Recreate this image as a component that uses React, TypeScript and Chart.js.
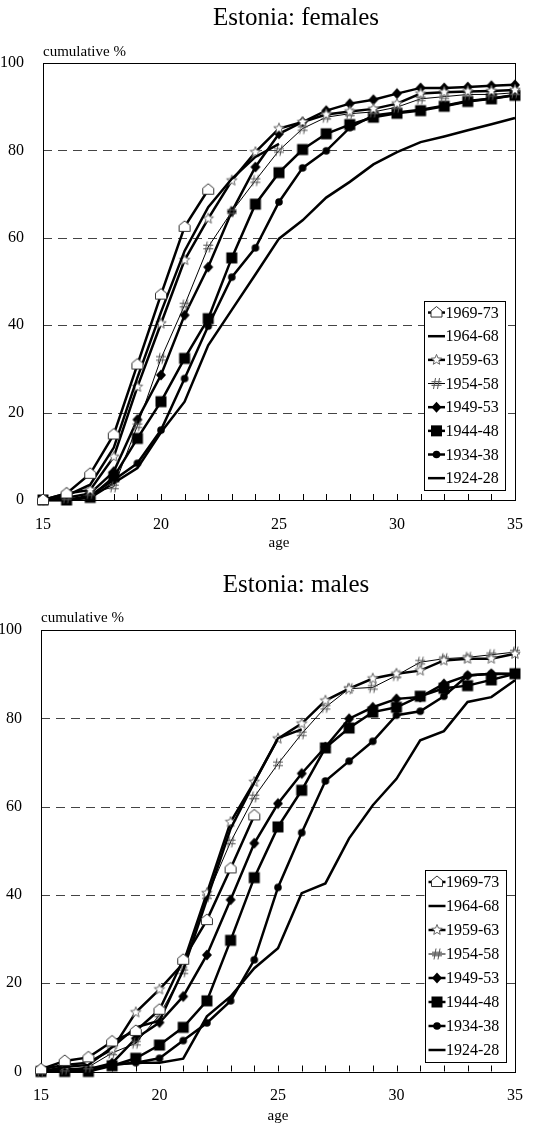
import { useEffect, useRef } from 'react';
import { Chart, registerables } from 'chart.js';

Chart.register(...registerables);

// ages on the x axis
const AGES = [15, 16, 17, 18, 19, 20, 21, 22, 23, 24, 25, 26, 27, 28, 29, 30, 31, 32, 33, 34, 35];
const Y_TICKS = [0, 20, 40, 60, 80, 100];
const COHORTS = ['1969-73', '1964-68', '1959-63', '1954-58', '1949-53', '1944-48', '1934-38', '1924-28'];

// females, cumulative %
const F_1969_73 = [0, 1.5, 6, 15, 31, 47, 62.5, 71];
const F_1964_68 = [0, 1, 3.5, 12, 28, 43, 57, 67, 73.5, 78.5, 81.5];
const F_1959_63 = [0, 1.5, 2.3, 9.9, 25.9, 40.4, 54.9, 64.4, 73.1, 79.6, 85, 86.5, 88.2, 88.9, 89.5, 90.7, 93, 93.3, 93.5, 93.6, 93.8];
const F_1954_58 = [0, 0.5, 1.5, 3, 17, 32.4, 44.6, 57.9, 66, 73.1, 80, 85, 87.6, 88.4, 88.8, 89.9, 91.8, 92.3, 92.8, 92.8, 93.2];
const F_1949_53 = [0, 0.5, 1.5, 6.5, 18.4, 28.6, 42.3, 53.3, 66, 76.2, 83.8, 86.5, 89.1, 90.7, 91.6, 93, 94.3, 94.3, 94.5, 94.8, 95];
const F_1944_48 = [0, 0, 0.6, 5.3, 14.1, 22.5, 32.4, 41.5, 55.4, 67.7, 74.9, 80.2, 83.8, 85.9, 87.6, 88.5, 89.1, 90.1, 91.2, 91.8, 92.6];
const F_1934_38 = [0, 0, 1, 4.6, 8.4, 16, 27.8, 39.8, 51, 57.7, 68.2, 76, 79.9, 85.2, 88, 88.7, 89.3, 90.2, 91.3, 91.9, 92.7];
const F_1924_28 = [0, 0, 0.5, 3.9, 7.3, 15.5, 22.5, 35.4, 43.5, 51.6, 59.8, 64, 69.2, 72.8, 76.8, 79.6, 81.9, 83.2, 84.6, 86, 87.4];

// males, cumulative %
const M_1969_73 = [0.5, 2.4, 3.2, 6.8, 9.2, 14, 25.3, 34.3, 46, 58];
const M_1964_68 = [0, 1, 1.5, 5.5, 10, 11.5, 23, 39, 55, 65.5, 75.5, 77.5];
const M_1959_63 = [0.5, 1.5, 2, 5, 13.4, 18.6, 24.5, 40.4, 56.5, 65.6, 75.4, 78.8, 84, 86.7, 89, 90.1, 90.8, 93.1, 93.5, 93.5, 94.6];
const M_1954_58 = [0, 0.5, 1, 4.2, 6.4, 12.8, 22.6, 39.6, 52, 62.2, 69.7, 76.5, 82.5, 86.7, 87, 89.7, 92.7, 93.5, 93.8, 94.4, 95];
const M_1949_53 = [0, 0.5, 0.5, 1.9, 7.5, 11.1, 17, 26.4, 38.9, 51.7, 60.7, 67.5, 73.5, 79.9, 82.5, 84.4, 84.8, 87.8, 89.7, 90.1, 90.1];
const M_1944_48 = [0, 0, 0, 1.3, 3, 6, 10, 16, 29.7, 43.9, 55.4, 63.7, 73.3, 77.8, 81.4, 82.5, 85, 86.8, 87.4, 88.7, 90.1];
const M_1934_38 = [0, 0, 0.5, 1.5, 2, 3, 7, 11, 16, 25.3, 41.7, 54.1, 65.8, 70.3, 74.8, 80.7, 81.6, 85, 89.7, 90.1, 90];
const M_1924_28 = [0, 0, 0.5, 1.5, 2, 2, 2.9, 12.5, 17, 23.4, 27.9, 40.4, 42.6, 52.8, 60.3, 66.3, 75, 77.1, 83.7, 84.8, 88.6];

const FEMALES = [F_1969_73, F_1964_68, F_1959_63, F_1954_58, F_1949_53, F_1944_48, F_1934_38, F_1924_28];
const MALES = [M_1969_73, M_1964_68, M_1959_63, M_1954_58, M_1949_53, M_1944_48, M_1934_38, M_1924_28];

type MarkerKind = 'house' | 'none' | 'star' | 'hash' | 'diamond' | 'square' | 'circle';

// one style per cohort, same order as COHORTS
const MARKERS: MarkerKind[] = ['house', 'none', 'star', 'hash', 'diamond', 'square', 'circle', 'none'];
const LINE_WIDTHS = [2.5, 2.5, 2.5, 1, 2.5, 2.5, 2.5, 2.5];

const FONT = "'Liberation Serif', 'Times New Roman', serif";

function drawMarker(ctx: CanvasRenderingContext2D, kind: MarkerKind, x: number, y: number) {
  ctx.save();
  ctx.translate(x, y);
  ctx.setLineDash([]);
  switch (kind) {
    case 'house':
      ctx.beginPath();
      ctx.moveTo(0, -6);
      ctx.lineTo(5.5, -1.5);
      ctx.lineTo(5.5, 4.5);
      ctx.lineTo(-5.5, 4.5);
      ctx.lineTo(-5.5, -1.5);
      ctx.closePath();
      ctx.fillStyle = '#fff';
      ctx.fill();
      ctx.strokeStyle = '#333';
      ctx.lineWidth = 1;
      ctx.stroke();
      break;
    case 'star': {
      ctx.beginPath();
      for (let i = 0; i < 10; i++) {
        const r = i % 2 === 0 ? 5.5 : 2.4;
        const a = -Math.PI / 2 + (i * Math.PI) / 5;
        if (i === 0) ctx.moveTo(r * Math.cos(a), r * Math.sin(a));
        else ctx.lineTo(r * Math.cos(a), r * Math.sin(a));
      }
      ctx.closePath();
      ctx.fillStyle = '#fff';
      ctx.fill();
      ctx.strokeStyle = '#666';
      ctx.lineWidth = 1;
      ctx.stroke();
      break;
    }
    case 'hash':
      ctx.beginPath();
      ctx.moveTo(-1, -5.5);
      ctx.lineTo(-3, 5.5);
      ctx.moveTo(3, -5.5);
      ctx.lineTo(1, 5.5);
      ctx.moveTo(-5, -1.8);
      ctx.lineTo(5, -1.8);
      ctx.moveTo(-5, 1.8);
      ctx.lineTo(5, 1.8);
      ctx.strokeStyle = '#555';
      ctx.lineWidth = 1;
      ctx.stroke();
      break;
    case 'diamond':
      ctx.beginPath();
      ctx.moveTo(0, -5.5);
      ctx.lineTo(5, 0);
      ctx.lineTo(0, 5.5);
      ctx.lineTo(-5, 0);
      ctx.closePath();
      ctx.fillStyle = '#000';
      ctx.fill();
      break;
    case 'square':
      ctx.fillStyle = '#000';
      ctx.fillRect(-5.5, -5.5, 11, 11);
      break;
    case 'circle':
      ctx.beginPath();
      ctx.arc(0, 0, 3.8, 0, Math.PI * 2);
      ctx.fillStyle = '#000';
      ctx.fill();
      break;
    default:
      break;
  }
  ctx.restore();
}

function markerCanvas(kind: MarkerKind) {
  const c = document.createElement('canvas');
  c.width = 16;
  c.height = 16;
  const ctx = c.getContext('2d');
  if (ctx) drawMarker(ctx, kind, 8, 8);
  return c;
}

interface PanelCfg {
  title: string;
  height: number;
  areaTop: number;
  yAxisWidth: number;
  xAxisHeight: number;
  xTickPad: number;
  agePadBottom: number;
  titleX: number;
  titleY: number;
  cumX: number;
  cumY: number;
  legendRow: number;
  legendInset: number;
}

const FEMALE_PANEL: PanelCfg = {
  title: 'Estonia: females',
  height: 560,
  areaTop: 63,
  yAxisWidth: 43,
  xAxisHeight: 60,
  xTickPad: 7,
  agePadBottom: 8,
  titleX: 296,
  titleY: 18,
  cumX: 43,
  cumY: 52,
  legendRow: 23.66,
  legendInset: 10,
};

const MALE_PANEL: PanelCfg = {
  title: 'Estonia: males',
  height: 567,
  areaTop: 70,
  yAxisWidth: 41,
  xAxisHeight: 55.5,
  xTickPad: 7,
  agePadBottom: 2,
  titleX: 296,
  titleY: 25,
  cumX: 41,
  cumY: 58,
  legendRow: 24,
  legendInset: 9.5,
};

function Panel({ cfg, series }: { cfg: PanelCfg; series: number[][] }) {
  const canvasRef = useRef<HTMLCanvasElement>(null);
  const chartRef = useRef<Chart | null>(null);

  useEffect(() => {
    if (!canvasRef.current) return;
    chartRef.current?.destroy();

    const icons = MARKERS.map(m => markerCanvas(m));

    const framePlugin = {
      id: 'frame',
      beforeDatasetsDraw(chart: Chart) {
        const { ctx, chartArea: a } = chart;
        const y = chart.scales.y;
        const x = chart.scales.x;
        ctx.save();
        // dashed grid
        ctx.strokeStyle = '#444';
        ctx.lineWidth = 1;
        ctx.setLineDash([9, 6]);
        Y_TICKS.filter(v => v > 0).forEach(v => {
          const py = Math.round(y.getPixelForValue(v)) + 0.5;
          ctx.beginPath();
          ctx.moveTo(a.left, py);
          ctx.lineTo(a.right, py);
          ctx.stroke();
        });
        ctx.setLineDash([]);
        // frame
        ctx.strokeStyle = '#000';
        ctx.strokeRect(Math.round(a.left) + 0.5, Math.round(a.top) + 0.5, Math.round(a.right - a.left), Math.round(a.bottom - a.top));
        // inward tick marks at every age
        AGES.forEach((_, i) => {
          const px = Math.round(x.getPixelForValue(i)) + 0.5;
          ctx.beginPath();
          ctx.moveTo(px, a.bottom);
          ctx.lineTo(px, a.bottom - 6);
          ctx.stroke();
        });
        ctx.restore();
      },
      afterDraw(chart: Chart) {
        const { ctx, chartArea: a } = chart;
        ctx.save();
        ctx.fillStyle = '#000';
        ctx.textBaseline = 'middle';
        ctx.font = `25px ${FONT}`;
        ctx.textAlign = 'center';
        ctx.fillText(cfg.title, cfg.titleX, cfg.titleY);
        ctx.font = `15px ${FONT}`;
        ctx.textAlign = 'left';
        ctx.fillText('cumulative %', cfg.cumX, cfg.cumY);

        // legend box inside the plot, bottom right
        const w = 81;
        const h = cfg.legendRow * COHORTS.length;
        const bx = a.right - cfg.legendInset - w;
        const by = a.bottom - cfg.legendInset - h;
        ctx.fillStyle = '#fff';
        ctx.fillRect(bx, by, w, h);
        ctx.strokeStyle = '#000';
        ctx.lineWidth = 1;
        ctx.strokeRect(Math.round(bx) + 0.5, Math.round(by) + 0.5, w, Math.round(h));
        ctx.font = `16px ${FONT}`;
        COHORTS.forEach((label, i) => {
          const cy = by + cfg.legendRow * (i + 0.5);
          ctx.strokeStyle = '#000';
          ctx.lineWidth = LINE_WIDTHS[i];
          ctx.beginPath();
          ctx.moveTo(bx + 4, cy);
          ctx.lineTo(bx + 21, cy);
          ctx.stroke();
          drawMarker(ctx, MARKERS[i], bx + 12.5, cy);
          ctx.fillStyle = '#000';
          ctx.fillText(label, bx + 21.5, cy + 1);
        });
        ctx.restore();
      },
    };

    chartRef.current = new Chart(canvasRef.current, {
      type: 'line',
      data: {
        labels: AGES.map(String),
        datasets: series.map((values, i) => ({
          label: COHORTS[i],
          data: values,
          borderColor: '#000',
          borderWidth: LINE_WIDTHS[i],
          tension: 0,
          fill: false,
          clip: false,
          pointStyle: MARKERS[i] === 'none' ? false : icons[i],
          pointRadius: MARKERS[i] === 'none' ? 0 : 5,
          pointHoverRadius: MARKERS[i] === 'none' ? 0 : 5,
        })),
      },
      options: {
        animation: false,
        responsive: true,
        maintainAspectRatio: false,
        events: [],
        layout: { padding: { top: cfg.areaTop, right: 31, bottom: 0, left: 0 } },
        plugins: {
          legend: { display: false },
          title: { display: false },
          tooltip: { enabled: false },
        },
        scales: {
          x: {
            type: 'category',
            grid: { display: false },
            border: { display: false },
            ticks: {
              autoSkip: false,
              maxRotation: 0,
              padding: cfg.xTickPad,
              color: '#000',
              font: { family: FONT, size: 16 },
              callback: (_v: unknown, index: number) => (AGES[index] % 5 === 0 ? String(AGES[index]) : ''),
            },
            title: {
              display: true,
              text: 'age',
              color: '#000',
              font: { family: FONT, size: 15 },
              padding: { top: 0, bottom: cfg.agePadBottom },
            },
            afterFit: (scale: any) => {
              scale.height = cfg.xAxisHeight;
            },
          },
          y: {
            min: 0,
            max: 100,
            grid: { display: false },
            border: { display: false },
            ticks: {
              stepSize: 20,
              padding: 11,
              color: '#000',
              font: { family: FONT, size: 16 },
            },
            afterFit: (scale: any) => {
              scale.width = cfg.yAxisWidth;
            },
          },
        },
      },
      plugins: [framePlugin],
    } as any);

    return () => {
      chartRef.current?.destroy();
      chartRef.current = null;
    };
  }, [cfg, series]);

  return (
    <div style={{ position: 'relative', width: 546, height: cfg.height }}>
      <canvas ref={canvasRef}></canvas>
    </div>
  );
}

export default function App() {
  return (
    <div style={{ position: 'absolute', left: 0, top: 0, width: 546, height: 1127, background: '#fff' }}>
      <Panel cfg={FEMALE_PANEL} series={FEMALES} />
      <Panel cfg={MALE_PANEL} series={MALES} />
    </div>
  );
}
